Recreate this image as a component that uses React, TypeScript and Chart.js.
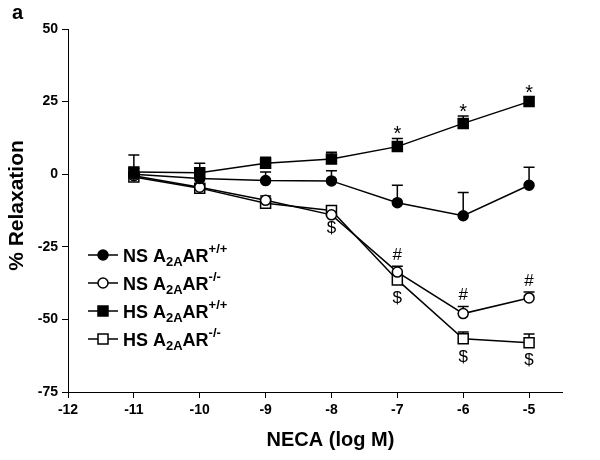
import React, { useEffect, useRef } from "react";
import { Chart, registerables } from "chart.js";

Chart.register(...registerables);

const xValues = [-11, -10, -9, -8, -7, -6, -5];
const xTicks = [-12, -11, -10, -9, -8, -7, -6, -5];
const yTicks = [-75, -50, -25, 0, 25, 50];

const nsWT = [0, -1.5, -2.2, -2.3, -9.8, -14.3, -3.8];
const nsWTErr = [2, 2, 3, 3.5, 6, 8, 6.2];
const nsKO = [-0.5, -4.5, -9, -14, -33.7, -48, -42.6];
const nsKOErr = [1, 1, 1.5, 1.5, 2, 2.4, 2];
const hsWT = [0.8, 0.5, 3.8, 5.2, 9.5, 17.5, 25];
const hsWTErr = [5.8, 3.3, 2, 2.4, 2.8, 2.5, 1.5];
const hsKO = [-1, -4.8, -10, -12.5, -36.4, -56.7, -58];
const hsKOErr = [1, 1, 1.5, 1.5, 2, 2.4, 3];

const starAt = [-7, -6, -5]; // HS +/+
const hashAt = [-7, -6, -5]; // NS -/-
const dollarAt = [-8, -7, -6, -5]; // HS -/-

const legendLabels = [
  { pre: "NS A", sub: "2A", mid: "AR", sup: "+/+" },
  { pre: "NS A", sub: "2A", mid: "AR", sup: "-/-" },
  { pre: "HS A", sub: "2A", mid: "AR", sup: "+/+" },
  { pre: "HS A", sub: "2A", mid: "AR", sup: "-/-" },
];

const FONT = "'Liberation Sans', Arial, sans-serif";

const toPts = (ys: number[]) => xValues.map((x, i) => ({ x, y: ys[i] }));

const seriesErr = [nsWTErr, nsKOErr, hsWTErr, hsKOErr];

const errorBarPlugin = {
  id: "errorBars",
  beforeDatasetsDraw(chart: any) {
    const ctx = chart.ctx;
    const xs = chart.scales.x;
    const ys = chart.scales.y;
    ctx.save();
    ctx.strokeStyle = "#000";
    ctx.lineWidth = 1.5;
    chart.data.datasets.forEach((ds: any, di: number) => {
      ds.data.forEach((p: any, i: number) => {
        const px = xs.getPixelForValue(p.x);
        const py = ys.getPixelForValue(p.y);
        const pt = ys.getPixelForValue(p.y + seriesErr[di][i]);
        ctx.beginPath();
        ctx.moveTo(px, py);
        ctx.lineTo(px, pt);
        ctx.moveTo(px - 5.5, pt);
        ctx.lineTo(px + 5.5, pt);
        ctx.stroke();
      });
    });
    ctx.restore();
  },
};

function drawMarker(ctx: any, style: string, filled: boolean, x: number, y: number) {
  ctx.beginPath();
  if (style === "circle") ctx.arc(x, y, 5, 0, Math.PI * 2);
  else ctx.rect(x - 5, y - 5, 10, 10);
  ctx.fillStyle = filled ? "#000" : "#fff";
  ctx.fill();
  ctx.lineWidth = 1.5;
  ctx.strokeStyle = "#000";
  ctx.stroke();
}

const overlayPlugin = {
  id: "overlay",
  afterDraw(chart: any) {
    const ctx = chart.ctx;
    const xs = chart.scales.x;
    const ys = chart.scales.y;
    const area = chart.chartArea;
    ctx.save();
    ctx.fillStyle = "#000";

    // significance marks
    const findY = (arr: number[], x: number) => arr[xValues.indexOf(x)];
    ctx.textAlign = "center";
    ctx.textBaseline = "middle";
    ctx.font = `20px ${FONT}`;
    starAt.forEach((x) => {
      const top = ys.getPixelForValue(findY(hsWT, x) + findY(hsWTErr, x));
      ctx.fillText("*", xs.getPixelForValue(x), top - 4);
    });
    ctx.font = `17px ${FONT}`;
    hashAt.forEach((x) => {
      const top = ys.getPixelForValue(findY(nsKO, x) + findY(nsKOErr, x));
      ctx.fillText("#", xs.getPixelForValue(x), top - 11);
    });
    ctx.font = `17px ${FONT}`;
    dollarAt.forEach((x) => {
      const py = ys.getPixelForValue(findY(hsKO, x));
      ctx.fillText("$", xs.getPixelForValue(x), py + 18);
    });

    // legend
    const styles = [
      ["circle", true],
      ["circle", false],
      ["rect", true],
      ["rect", false],
    ] as const;
    const lx = area.left + 20;
    const ly0 = area.top + 226;
    legendLabels.forEach((lab, i) => {
      const y = ly0 + i * 28;
      ctx.beginPath();
      ctx.strokeStyle = "#000";
      ctx.lineWidth = 1.5;
      ctx.moveTo(lx, y);
      ctx.lineTo(lx + 30, y);
      ctx.stroke();
      drawMarker(ctx, styles[i][0], styles[i][1], lx + 15, y);
      let tx = lx + 35;
      ctx.textAlign = "left";
      ctx.textBaseline = "alphabetic";
      ctx.fillStyle = "#000";
      ctx.font = `bold 18px ${FONT}`;
      ctx.fillText(lab.pre, tx, y + 6.5);
      tx += ctx.measureText(lab.pre).width;
      ctx.font = `bold 13px ${FONT}`;
      ctx.fillText(lab.sub, tx, y + 10.5);
      tx += ctx.measureText(lab.sub).width;
      ctx.font = `bold 18px ${FONT}`;
      ctx.fillText(lab.mid, tx, y + 6.5);
      tx += ctx.measureText(lab.mid).width;
      ctx.font = `bold 13px ${FONT}`;
      ctx.fillText(lab.sup, tx, y - 2);
    });

    // axis titles and panel label
    ctx.textAlign = "center";
    ctx.textBaseline = "middle";
    ctx.font = `bold 20px ${FONT}`;
    ctx.fillText("NECA (log M)", xs.getPixelForValue(-8) - 1, 440);
    ctx.save();
    ctx.translate(17, (area.top + area.bottom) / 2 - 5);
    ctx.rotate(-Math.PI / 2);
    ctx.font = `bold 21px ${FONT}`;
    ctx.fillText("% Relaxation", 0, 0);
    ctx.restore();
    ctx.textAlign = "left";
    ctx.font = `bold 20px ${FONT}`;
    ctx.fillText("a", 12, 13);
    ctx.restore();
  },
};

export default function App() {
  const ref = useRef<HTMLCanvasElement | null>(null);
  useEffect(() => {
    document.body.style.margin = "0";
    if (!ref.current) return;
    const mk = (data: number[], style: string, filled: boolean) => ({
      data: toPts(data),
      borderColor: "#000",
      borderWidth: 1.5,
      pointStyle: style,
      pointRadius: style === "rect" ? 7.07 : 5,
      pointBorderWidth: 1.5,
      pointBorderColor: "#000",
      pointBackgroundColor: filled ? "#000" : "#fff",
      backgroundColor: filled ? "#000" : "#fff",
      showLine: true,
      tension: 0,
    });
    const chart = new Chart(ref.current, {
      type: "scatter",
      data: {
        datasets: [
          mk(nsWT, "circle", true),
          mk(nsKO, "circle", false),
          mk(hsWT, "rect", true),
          mk(hsKO, "rect", false),
        ] as any,
      },
      options: {
        responsive: false,
        animation: false,
        layout: { padding: { top: 29, right: 38, left: 0, bottom: 0 } },
        plugins: { legend: { display: false }, tooltip: { enabled: false } },
        scales: {
          x: {
            type: "linear",
            min: -12,
            max: -4.5,
            afterBuildTicks: (s: any) => {
              s.ticks = xTicks.map((v) => ({ value: v }));
            },
            afterFit: (s: any) => {
              s.height = 68;
            },
            grid: { drawOnChartArea: false, drawTicks: true, tickLength: 6, color: "#000" },
            border: { display: true, color: "#000", width: 1 },
            ticks: {
              color: "#000",
              padding: 4,
              maxRotation: 0,
              font: { family: FONT, size: 14, weight: "bold" },
            },
          },
          y: {
            type: "linear",
            min: -75,
            max: 50,
            afterBuildTicks: (s: any) => {
              s.ticks = yTicks.map((v) => ({ value: v }));
            },
            afterFit: (s: any) => {
              s.width = 68;
            },
            grid: { drawOnChartArea: false, drawTicks: true, tickLength: 6, color: "#000" },
            border: { display: true, color: "#000", width: 1 },
            ticks: {
              color: "#000",
              padding: 4,
              font: { family: FONT, size: 14, weight: "bold" },
            },
          },
        },
      } as any,
      plugins: [errorBarPlugin, overlayPlugin],
    });
    return () => chart.destroy();
  }, []);
  return (
    <div style={{ position: "absolute", left: 0, top: 0, width: 600, height: 460, background: "#fff" }}>
      <canvas ref={ref} width={600} height={460} />
    </div>
  );
}
